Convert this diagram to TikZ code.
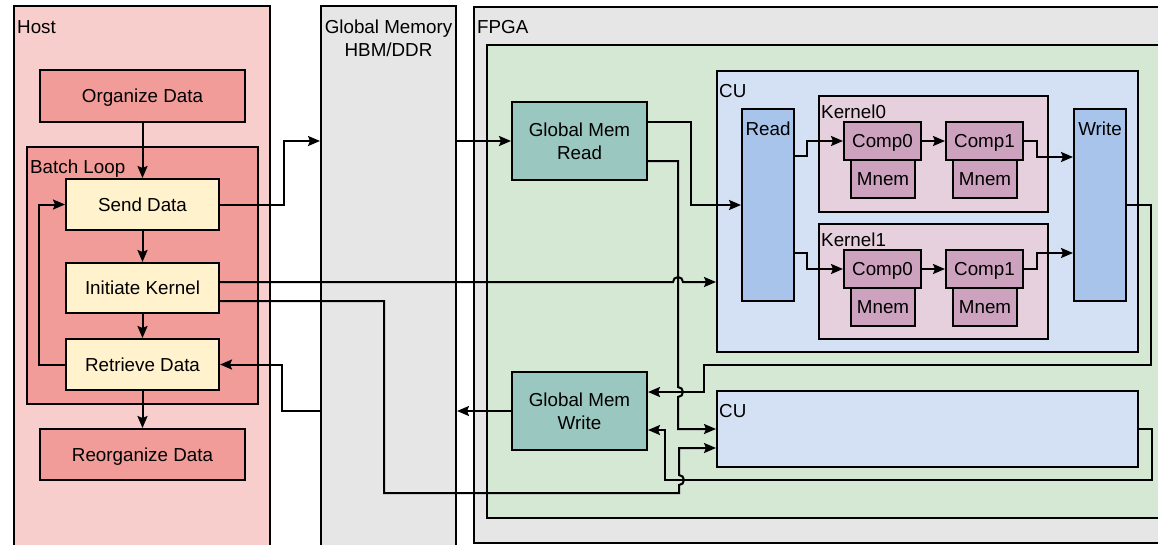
\documentclass[tikz,border=0pt]{standalone}
\usepackage{fontspec}
\setmainfont{Liberation Sans}
\usetikzlibrary{arrows.meta,calc}
\definecolor{hostc}{HTML}{F8CECC}
\definecolor{redc}{HTML}{F19C99}
\definecolor{yelc}{HTML}{FFF2CC}
\definecolor{grayc}{HTML}{E6E6E6}
\definecolor{greenc}{HTML}{D5E8D4}
\definecolor{tealc}{HTML}{9AC7BF}
\definecolor{cuc}{HTML}{D4E1F5}
\definecolor{barc}{HTML}{A9C4EB}
\definecolor{kerc}{HTML}{E6D0DE}
\definecolor{compc}{HTML}{CDA2BE}
\newcommand\fsz{\fontsize{18.8}{23}\selectfont}
\tikzset{
  box/.style={draw=black, line width=2pt, inner sep=0pt, align=center, font=\fsz},
  one/.style={text height=13.5pt, text depth=0pt},
  txt/.style={inner sep=0pt, font=\fsz, text height=13.5pt, text depth=0pt},
  arr/.style={draw=black, line width=2pt, -{Stealth[length=12pt,width=10pt,inset=2pt]}},
  ln/.style={draw=black, line width=2pt},
}
\begin{document}
\begin{tikzpicture}[x=1pt,y=-1pt]
\useasboundingbox (0,0) rectangle (1158,544);
% Host side
\node[box, fill=hostc, minimum width=256pt, minimum height=540pt] (host) at (142,276) {};
\node[txt, anchor=west] (hostlbl) at (17,27) {Host};
\node[box, fill=redc, minimum width=231pt, minimum height=257pt] (batch) at (142.5,275.5) {};
\node[txt, anchor=west] (batchlbl) at (30,167) {Batch Loop};
\node[box, one, fill=redc, minimum width=205pt, minimum height=52pt] (org) at (142.5,96) {Organize Data};
\node[box, one, fill=yelc, minimum width=153pt, minimum height=51pt] (send) at (142.5,204.5) {Send Data};
\node[box, one, fill=yelc, minimum width=153pt, minimum height=50pt] (init) at (142.5,288) {Initiate Kernel};
\node[box, one, fill=yelc, minimum width=153pt, minimum height=51pt] (retr) at (142.5,364.5) {Retrieve Data};
\node[box, one, fill=redc, minimum width=205pt, minimum height=51pt] (reorg) at (142.5,454.5) {Reorganize Data};
% Global memory
\node[box, fill=grayc, minimum width=135pt, minimum height=540pt] (gm) at (388.5,276) {};
\node[inner sep=0pt, font=\fsz, align=center] (gmlbl) at (388.5,38.5) {Global Memory\\HBM/DDR};
% FPGA
\node[box, fill=grayc, minimum width=701pt, minimum height=536pt] (fpga) at (824.5,275) {};
\node[txt, anchor=west] (fpgalbl) at (477,27) {FPGA};
\node[box, fill=greenc, minimum width=683pt, minimum height=473pt] (green) at (828.5,281.5) {};
% CU 1
\node[box, fill=cuc, minimum width=421pt, minimum height=281pt] (cu1) at (927.5,211.5) {};
\node[txt, anchor=west] (cu1lbl) at (719,91) {CU};
\node[box, fill=barc, minimum width=52pt, minimum height=192pt] (read) at (768,205) {};
\node[txt] (readlbl) at (768,129) {Read};
\node[box, fill=barc, minimum width=52pt, minimum height=192pt] (write) at (1100,205) {};
\node[txt] (writelbl) at (1100,129) {Write};
\node[box, fill=kerc, minimum width=229pt, minimum height=116pt] (k0) at (933.5,154) {};
\node[txt, anchor=west] (k0lbl) at (821,112) {Kernel0};
\node[box, fill=kerc, minimum width=229pt, minimum height=115pt] (k1) at (933.5,281.5) {};
\node[txt, anchor=west] (k1lbl) at (821,240) {Kernel1};
\node[box, one, fill=compc, minimum width=64pt, minimum height=38pt] (k0m0) at (883,179) {Mnem};
\node[box, one, fill=compc, minimum width=64pt, minimum height=38pt] (k0m1) at (985,179) {Mnem};
\node[box, one, fill=compc, minimum width=77pt, minimum height=38pt] (k0c0) at (882.5,141) {Comp0};
\node[box, one, fill=compc, minimum width=77pt, minimum height=38pt] (k0c1) at (984.5,141) {Comp1};
\node[box, one, fill=compc, minimum width=64pt, minimum height=38pt] (k1m0) at (883,307) {Mnem};
\node[box, one, fill=compc, minimum width=64pt, minimum height=38pt] (k1m1) at (985,307) {Mnem};
\node[box, one, fill=compc, minimum width=77pt, minimum height=38pt] (k1c0) at (882.5,269) {Comp0};
\node[box, one, fill=compc, minimum width=77pt, minimum height=38pt] (k1c1) at (984.5,269) {Comp1};
% CU 2
\node[box, fill=cuc, minimum width=421pt, minimum height=76pt] (cu2) at (927.5,429) {};
\node[txt, anchor=west] (cu2lbl) at (719,411) {CU};
% Global mem read / write
\node[box, fill=tealc, minimum width=135pt, minimum height=78pt] (gmr) at (579.5,141) {Global Mem\\Read};
\node[box, fill=tealc, minimum width=135pt, minimum height=78pt] (gmw) at (579.5,411) {Global Mem\\Write};
% host flow
\draw[arr] (org.south) -- (send.north);
\draw[arr] (send.south) -- (init.north);
\draw[arr] (init.south) -- (retr.north);
\draw[arr] (retr.south) -- (reorg.north);
\draw[arr] (retr.west) -- ++(-26,0) |- (send.west);
% host <-> global memory
\draw[arr] (send.east) -- ++(64,0) |- (gm.west |- gmr.west);
\draw[arr] (gm.west |- gmw.west) -- ++(-38,0) |- (retr.east);
\draw[arr] (gm.east |- gmr.west) -- (gmr.west);
\draw[arr] (gmw.west) -- (gm.east |- gmw.west);
% GMR -> CU1 read
\draw[arr] ($(gmr.east)+(0,-19)$) -- (691,122) -- (691,205) -- (read.west);
% GMR -> CU2 (vertical hops over y=392 line)
\draw[arr] ($(gmr.east)+(0,20)$) -- (678,161) -- (678,387) arc[start angle=90, end angle=-90, radius=5pt] -- (678,429) -- (cu2.west);
% Initiate Kernel -> CU1 (hops over vertical at x=678)
\coordinate (hopA) at (673,282);
\draw[arr] ($(init.east)+(0,-6)$) -- (hopA) arc[start angle=180, end angle=0, radius=5pt] -- (cu1.west |- hopA);
% Initiate Kernel -> CU2
\coordinate (cu2in) at (679,448);
\draw[arr] ($(init.east)+(0,13)$) -- (384,301) -- (384,493) -- (679,493) -- (679,485) arc[start angle=-90, end angle=90, radius=5pt] -- (cu2in) -- (cu2.west |- cu2in);
% CU1 write -> GMW
\draw[arr] (write.east) -- (1151,205) -- (1151,365) -- (704,365) -- (704,392) -- ($(gmw.east)+(0,-19)$);
% CU2 -> GMW
\draw[arr] (cu2.east) -- (1152,429) -- (1152,480) -- (665,480) -- (665,430) -- ($(gmw.east)+(0,19)$);
% kernels
\draw[arr] ($(read.east)+(0,-49)$) -- ++(12,0) |- (k0c0.west);
\draw[arr] (k0c0.east) -- (k0c1.west);
\draw[arr] (k0c1.east) -- ++(13,0) |- ($(write.west)+(0,-48)$);
\draw[arr] ($(read.east)+(0,48)$) -- ++(12,0) |- (k1c0.west);
\draw[arr] (k1c0.east) -- (k1c1.west);
\draw[arr] (k1c1.east) -- ++(13,0) |- ($(write.west)+(0,48)$);
\end{tikzpicture}
\end{document}
